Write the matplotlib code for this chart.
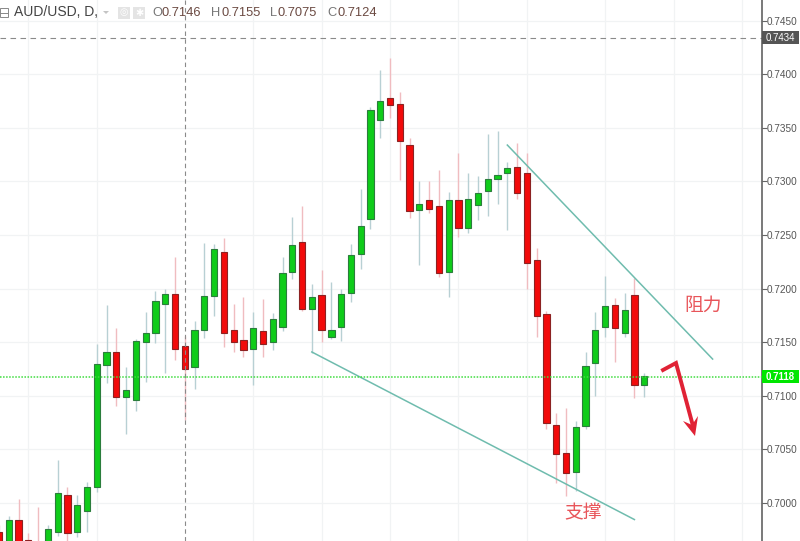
import matplotlib

matplotlib.use("Agg")
from matplotlib import pyplot as plt
from matplotlib.patches import Polygon, Rectangle

plt.rcParams["font.family"] = ["Liberation Sans", "DejaVu Sans"]

# daily candles, first ones run below the visible range
opens = [0.69729, 0.69580, 0.69841, 0.69655, 0.69599, 0.69543, 0.69729, 0.70075, 0.69729, 0.69925,
         0.70149, 0.71287, 0.71409, 0.70989, 0.70961, 0.71502, 0.71586, 0.71856, 0.71950, 0.71464,
         0.71269, 0.71614, 0.71931, 0.72341, 0.71614, 0.71520, 0.71437, 0.71604, 0.71502, 0.71642,
         0.72155, 0.72435, 0.71810, 0.71940, 0.71548, 0.71642, 0.71959, 0.72323, 0.72649, 0.73573,
         0.73778, 0.73722, 0.73339, 0.72733, 0.72826, 0.72770, 0.72155, 0.72826, 0.72565, 0.72780,
         0.72910, 0.73022, 0.73078, 0.73134, 0.73078, 0.72267, 0.71763, 0.70728, 0.70466, 0.70289,
         0.70718, 0.71306, 0.71642, 0.71847, 0.71586, 0.71940, 0.71101]
highs = [0.69795, 0.69879, 0.70037, 0.69720, 0.69963, 0.69795, 0.70401, 0.70149, 0.70075, 0.70196,
         0.71483, 0.71847, 0.71632, 0.71269, 0.71530, 0.71782, 0.71978, 0.71996, 0.72295, 0.71558,
         0.71698, 0.72425, 0.72416, 0.72472, 0.71856, 0.71922, 0.71782, 0.71903, 0.71772, 0.72295,
         0.72668, 0.72770, 0.72043, 0.72173, 0.72061, 0.71996, 0.72416, 0.72929, 0.73694, 0.74039,
         0.74151, 0.73834, 0.73405, 0.73004, 0.73004, 0.73106, 0.72901, 0.73265, 0.73078, 0.73050,
         0.73442, 0.73470, 0.73181, 0.73358, 0.73265, 0.72379, 0.71791, 0.70840, 0.70886, 0.70765,
         0.71409, 0.71782, 0.72117, 0.71912, 0.71959, 0.72099, 0.71213]
lows = [0.69506, 0.69543, 0.69506, 0.69543, 0.69468, 0.69487, 0.69692, 0.69599, 0.69683, 0.69729,
        0.70103, 0.71119, 0.70905, 0.70644, 0.70858, 0.71129, 0.71492, 0.71213, 0.71334, 0.70774,
        0.71063, 0.71539, 0.71744, 0.71455, 0.71409, 0.71362, 0.71101, 0.71362, 0.71427, 0.71604,
        0.72089, 0.71791, 0.71399, 0.71502, 0.71530, 0.71511, 0.71875, 0.72183, 0.72556, 0.73405,
        0.73591, 0.73013, 0.72658, 0.72220, 0.72705, 0.72108, 0.71922, 0.72481, 0.72519, 0.72640,
        0.72677, 0.72789, 0.72547, 0.72836, 0.71996, 0.71548, 0.70690, 0.70187, 0.70065, 0.70112,
        0.70690, 0.70998, 0.71548, 0.71315, 0.71548, 0.70979, 0.70989]
closes = [0.69543, 0.69841, 0.69562, 0.69599, 0.69506, 0.69757, 0.70093, 0.69720, 0.69981, 0.70149,
          0.71297, 0.71409, 0.70989, 0.71054, 0.71511, 0.71586, 0.71884, 0.71950, 0.71437, 0.71250,
          0.71614, 0.71931, 0.72369, 0.71586, 0.71502, 0.71427, 0.71632, 0.71483, 0.71716, 0.72145,
          0.72407, 0.71810, 0.71922, 0.71614, 0.71614, 0.71950, 0.72313, 0.72584, 0.73666, 0.73750,
          0.73713, 0.73377, 0.72724, 0.72789, 0.72742, 0.72145, 0.72826, 0.72565, 0.72836, 0.72892,
          0.73022, 0.73060, 0.73125, 0.72892, 0.72239, 0.71744, 0.70746, 0.70457, 0.70280, 0.70709,
          0.71278, 0.71614, 0.71838, 0.71632, 0.71800, 0.71101, 0.71185]

price_ticks = [0.7000, 0.7050, 0.7100, 0.7150, 0.7200, 0.7250, 0.7300, 0.7350, 0.7400, 0.7450]
grid_days = [3, 10, 26, 33, 40, 47, 54, 62, 69, 76]

resistance_days = [52, 73]
resistance_prices = [0.73339, 0.71343]
support_days = [32, 65]
support_prices = [0.71409, 0.69846]

crosshair_day = 19
crosshair_price = 0.7434
last_price = 0.7118

GREEN = "#0fcc1a"
GREEN_EDGE = "#2b7d3c"
RED = "#f20a0a"
RED_EDGE = "#8c2222"
GREEN_WICK = "#b8d0d4"
RED_WICK = "#f0bcc0"
LINE_TEAL = "#6fbcae"
MARK_RED = "#e02235"
NOTE_RED = "#e8555a"
W, H = 800, 541


def px(x, y):
    return x / W, 1 - y / H


fig = plt.figure(figsize=(W / 100, H / 100), dpi=100)
ax = fig.add_axes([0, 0, 761.5 / W, 1])
ax.set_xlim(0.10, 78.0)
ax.set_ylim(0.69646, 0.74692)

for i, (o, h, l, c) in enumerate(zip(opens, highs, lows, closes)):
    up = c >= o
    ax.vlines(i, l, h, color=GREEN_WICK if up else RED_WICK, lw=1.0, zorder=2)
    ax.bar(i, abs(c - o), 0.64, bottom=min(o, c), color=GREEN if up else RED,
           edgecolor=GREEN_EDGE if up else RED_EDGE, lw=0.8, zorder=3)

ax.plot(resistance_days, resistance_prices, color=LINE_TEAL, lw=1.1, zorder=4)
ax.plot(support_days, support_prices, color=LINE_TEAL, lw=1.1, zorder=4)

ax.axhline(crosshair_price, color="#8a8a8a", lw=0.8, dashes=(5, 4), zorder=1)
ax.axvline(crosshair_day, color="#8a8a8a", lw=0.8, dashes=(4, 3), zorder=4)
ax.axhline(last_price, color="#3fdc3f", lw=1.1, ls=(0, (1, 1)), zorder=5)

ax.set_yticks(price_ticks, [f"{p:.4f}" for p in price_ticks])
ax.set_xticks(grid_days, [""] * len(grid_days))
ax.grid(True, color="#f1f3f4", lw=0.9)
ax.set_axisbelow(True)
ax.yaxis.tick_right()
ax.tick_params(axis="y", length=3.5, width=0.8, color="#666666", labelcolor="#555555", labelsize=7.2, pad=0.5)
ax.tick_params(axis="x", length=0)
for name in ("top", "left", "bottom"):
    ax.spines[name].set_visible(False)
ax.spines["right"].set_color("#555555")
ax.spines["right"].set_linewidth(1.1)

# price tags on the axis
trans = ax.get_yaxis_transform()
for price, face, weight in ((crosshair_price, "#555555", "normal"), (last_price, "#00e600", "bold")):
    ax.add_patch(Rectangle((1.0, price - 0.00061), 37.5 / 761.5, 0.00122, fc=face, ec="none",
                           transform=trans, clip_on=False, zorder=6))
    ax.text(1.0 + 19 / 761.5, price, f"{price:.4f}", transform=trans, ha="center", va="center",
            fontsize=7, fontweight=weight, color="white", clip_on=False, zorder=7)

# header
fig.text(*px(14, 12.5), "AUD/USD, D,", fontsize=10, color="#444444", va="center")
fig.add_artist(Polygon([px(103, 11), px(109, 11), px(106, 14)], closed=True, fc="#c4c4c4", ec="none",
                       transform=fig.transFigure))
for left in (118, 133):
    fig.add_artist(Rectangle(px(left, 18.5), 12 / W, 12 / H, fc="#e4e4e4", ec="none", transform=fig.transFigure))
    fig.text(*px(left + 6, 12.5), "◎" if left == 118 else "✱", fontsize=7, color="#ffffff", ha="center",
             va="center", family=["DejaVu Sans"])
fig.add_artist(Rectangle(px(0, 17), 8 / W, 9 / H, fc="none", ec="#888888", lw=0.7, transform=fig.transFigure))
fig.add_artist(plt.Line2D([0, 8 / W], [1 - 12.5 / H] * 2, color="#888888", lw=0.7, transform=fig.transFigure))
for x_label, x_value, label, value in ((152, 162, "O", "0.7146"), (211, 221.5, "H", "0.7155"),
                                       (270, 278, "L", "0.7075"), (327, 337, "C", "0.7124")):
    fig.text(*px(x_label, 12.5), label, fontsize=9.3, color="#777777", va="center")
    fig.text(*px(x_value, 12.5), value, fontsize=9.3, color="#6b4a42", va="center")

# hand drawn notes
fig.text(*px(703, 305), "阻力", fontsize=13.5, color=NOTE_RED, ha="center", va="center", family=["Noto Sans CJK SC"])
fig.text(*px(583, 513), "支撑", fontsize=13.5, color=NOTE_RED, ha="center", va="center", family=["Noto Sans CJK SC"])
arrow_x, arrow_y = zip(*[px(663, 370), px(676, 363), px(693, 426)])
fig.add_artist(plt.Line2D(arrow_x, arrow_y, color=MARK_RED, lw=2.8, transform=fig.transFigure,
                          solid_joinstyle="miter"))
fig.add_artist(Polygon([px(683, 421), px(695, 436), px(698, 416), px(692, 425)], closed=True, fc=MARK_RED,
                       ec="none", transform=fig.transFigure))

fig.savefig("out.png", dpi=100)
